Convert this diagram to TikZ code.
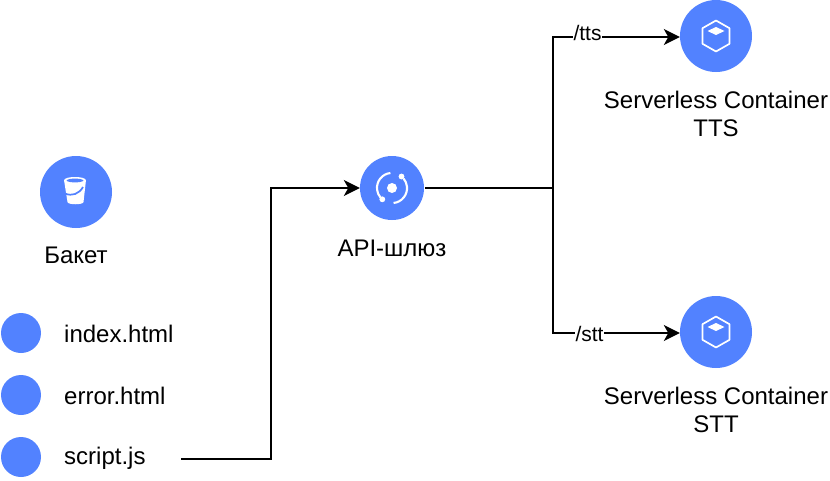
\documentclass[tikz,border=0pt]{standalone}
\usepackage{fontspec}
\setmainfont{Liberation Sans}
\usetikzlibrary{arrows.meta}
\definecolor{ycblue}{HTML}{5282FF}
\tikzset{
  x=1pt,y=-1pt,
  bigdot/.style={circle,fill=ycblue,draw=none,inner sep=0pt,minimum size=72pt},
  apidot/.style={circle,fill=ycblue,draw=none,inner sep=0pt,minimum size=64pt},
  smalldot/.style={circle,fill=ycblue,draw=none,inner sep=0pt,minimum size=40pt},
  lbl/.style={font=\fontsize{24}{28}\selectfont,text=black,align=center,inner sep=0pt},
  pathlbl/.style={font=\fontsize{21}{24}\selectfont,text=black,fill=white,inner sep=0.5pt},
  conn/.style={draw=black,line width=1.5pt,-{Stealth[length=16pt,width=16pt,inset=4.5pt]}},
  plainconn/.style={draw=black,line width=1.5pt},
  icon/.style={draw=white,line width=1.7pt,fill=none}
}
\begin{document}
\begin{tikzpicture}
\useasboundingbox (0,0) rectangle (830,480);
% bucket
\node[bigdot] (bucket) at (76,192) {};
\fill[white] (64,180) .. controls (65.5,176) and (84.5,176) .. (86,180) -- (83.5,202) .. controls (83,205) and (68,205) .. (67.5,202) -- cycle;
\fill[ycblue] (66.5,180.5) .. controls (68,178) and (82,178) .. (83.5,180.5) .. controls (82,183) and (68,183) .. (66.5,180.5) -- cycle;
\draw[ycblue,line width=1.7pt] (65,193.5) .. controls (72,196.5) and (79,194) .. (83,187);
\node[lbl] (bucketl) at (76,255) {Бакет};
% files
\node[smalldot] (d1) at (21,333) {};
\node[smalldot] (d2) at (21,395) {};
\node[smalldot] (d3) at (21,457) {};
\node[lbl,anchor=west] (f1) at (64,334) {index.html};
\node[lbl,anchor=west] (f2) at (64,396) {error.html};
\node[lbl,anchor=west] (f3) at (64,458) {script.js};
% api
\node[apidot] (api) at (392,188) {};
\node[lbl] (apil) at (392,248) {API-шлюз};
\fill[white] (392,188) circle (5);
\draw[icon,line width=2.1pt] (390.4,173) arc (264:140:15);
\draw[icon,line width=2.1pt] (393.6,203) arc (84:-40:15);
\fill[white] (382.3,199.3) circle (2.9);
\fill[white] (401.5,176.5) circle (2.9);
% containers
\node[bigdot] (tts) at (716,36) {};
\node[bigdot] (stt) at (716,332) {};
\foreach \c in {tts,stt}{
  \begin{scope}[shift={(\c.center)}]
    \draw[icon,line join=round] (0,-15.5) -- (13.5,-7.8) -- (13.5,7.8) -- (0,15.5) -- (-13.5,7.8) -- (-13.5,-7.8) -- cycle;
    \fill[white] (0,-9) -- (8.5,-5) -- (0,-1) -- (-8.5,-5) -- cycle;
  \end{scope}
}
\node[lbl] (ttsl) at (716,114) {Serverless Container\\TTS};
\node[lbl] (sttl) at (716,410) {Serverless Container\\STT};
% connectors
\coordinate (start) at (181,459);
\coordinate (c1) at (271,459);
\coordinate (c2) at (271,188);
\coordinate (junction) at (553,188);
\coordinate (jt) at (553,37);
\coordinate (js) at (553,333);
\draw[conn] (start) -- (c1) -- (c2) -- (api.west);
\draw[plainconn] (api.east) ++(1,0) -- (junction);
\draw[conn] (junction) -- (jt) -- (tts.west |- jt);
\draw[conn] (junction) -- (js) -- (stt.west |- js);
\node[pathlbl] (ltts) at (587.5,33) {/tts};
\node[pathlbl] (lstt) at (589.5,334) {/stt};
\end{tikzpicture}
\end{document}
